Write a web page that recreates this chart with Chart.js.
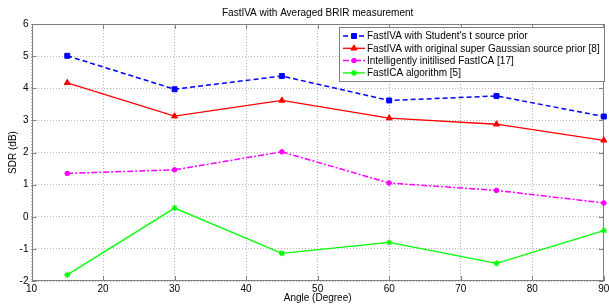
<!DOCTYPE html>
<html><head><meta charset="utf-8">
<script src="https://cdn.jsdelivr.net/npm/chart.js@4"></script>
<style>html,body{margin:0;padding:0;background:#fff}#wrap{width:609px;height:306px}</style>
</head><body><div id="wrap"><canvas id="c" width="609" height="306"></canvas></div>
<script>
const chartTitle = 'FastIVA with Averaged BRIR measurement';
const xTitle = 'Angle (Degree)';
const yTitle = 'SDR (dB)';
const angles = [15, 30, 45, 60, 75, 90];
const sdrStudentT = [5.01, 3.97, 4.38, 3.62, 3.76, 3.12];
const sdrSuperGauss = [4.17, 3.13, 3.62, 3.07, 2.88, 2.38];
const sdrIntelFastICA = [1.35, 1.46, 2.02, 1.05, 0.82, 0.43];
const sdrFastICA = [-1.81, 0.27, -1.14, -0.80, -1.45, -0.43];
const seriesLabels = [
  "FastIVA with Student's t source prior",
  "FastIVA with original super Gaussian source prior [8]",
  "Intelligently initilised FastICA [17]",
  "FastICA algorithm [5]"
];
const xTicks = [10, 20, 30, 40, 50, 60, 70, 80, 90];
const yTicks = [-2, -1, 0, 1, 2, 3, 4, 5, 6];

const FONT = "'Liberation Sans', Arial, sans-serif";
const pts = arr => angles.map((a, i) => ({x: a, y: arr[i]}));

const datasets = [
  {label: seriesLabels[0], data: pts(sdrStudentT), borderColor: '#0000ff', backgroundColor: '#0000ff',
   borderDash: [5, 3], borderWidth: 1.5, pointStyle: 'rect', pointRadius: 3.5, pointBorderWidth: 1},
  {label: seriesLabels[1], data: pts(sdrSuperGauss), borderColor: '#ff0000', backgroundColor: '#ff0000',
   borderDash: [], borderWidth: 1.3, pointStyle: 'triangle', pointRadius: 3.5, pointBorderWidth: 1},
  {label: seriesLabels[2], data: pts(sdrIntelFastICA), borderColor: '#ff00ff', backgroundColor: '#ff00ff',
   borderDash: [6, 2, 2, 2], borderWidth: 1.5, pointStyle: 'circle', pointRadius: 2.3, pointBorderWidth: 1},
  {label: seriesLabels[3], data: pts(sdrFastICA), borderColor: '#00ff00', backgroundColor: '#00ff00',
   borderDash: [], borderWidth: 1.3, pointStyle: 'star', pointRadius: 3, pointBorderWidth: 1.2}
];
datasets.forEach(d => { d.tension = 0; d.fill = false; d.clip = false; });

const frame = {
  id: 'frame',
  beforeDatasetsDraw(chart) {
    const {ctx, chartArea: {left, right, top, bottom}, scales: {x, y}} = chart;
    ctx.save();
    ctx.setLineDash([]);
    ctx.strokeStyle = '#808080';
    ctx.lineWidth = 1;
    ctx.strokeRect(Math.round(left) + 0.5, Math.round(top) + 0.5, Math.round(right - left) - 1, Math.round(bottom - top) - 1);
    ctx.beginPath();
    xTicks.forEach(v => {
      const px = Math.round(x.getPixelForValue(v)) + 0.5;
      ctx.moveTo(px, bottom); ctx.lineTo(px, bottom - 5);
      ctx.moveTo(px, top); ctx.lineTo(px, top + 5);
    });
    yTicks.forEach(v => {
      const py = Math.round(y.getPixelForValue(v)) + 0.5;
      ctx.moveTo(left, py); ctx.lineTo(left + 5, py);
      ctx.moveTo(right, py); ctx.lineTo(right - 5, py);
    });
    ctx.stroke();
    ctx.restore();
  },
  afterDraw(chart) {
    const {ctx, chartArea: {left, right}} = chart;
    ctx.save();
    ctx.fillStyle = '#000';
    ctx.font = '10px ' + FONT;
    ctx.textAlign = 'center';
    ctx.textBaseline = 'middle';
    ctx.fillText(chartTitle, (left + right) / 2, 13);
    const bx = 339.5, by = 27.5, bw = 265, bh = 54;
    ctx.fillStyle = '#fff';
    ctx.fillRect(bx, by, bw, bh);
    ctx.strokeStyle = '#808080';
    ctx.lineWidth = 1;
    ctx.setLineDash([]);
    ctx.strokeRect(bx, by, bw, bh);
    chart.data.datasets.forEach((d, i) => {
      const yy = 36 + 12.3 * i;
      ctx.save();
      ctx.strokeStyle = d.borderColor;
      ctx.fillStyle = d.backgroundColor;
      ctx.lineWidth = d.borderWidth;
      ctx.setLineDash(d.borderDash);
      ctx.beginPath(); ctx.moveTo(343, yy); ctx.lineTo(365, yy); ctx.stroke();
      ctx.setLineDash([]);
      ctx.lineWidth = d.pointBorderWidth;
      Chart.helpers.drawPoint(ctx, {pointStyle: d.pointStyle, radius: d.pointRadius, borderWidth: d.pointBorderWidth, rotation: 0}, 354, yy);
      ctx.restore();
      ctx.fillStyle = '#000';
      ctx.textAlign = 'left';
      ctx.textBaseline = 'middle';
      ctx.font = '10px ' + FONT;
      ctx.fillText(d.label, 367, yy + 0.5);
    });
    ctx.restore();
  }
};

new Chart(document.getElementById('c'), {
  type: 'line',
  data: {datasets},
  plugins: [frame],
  options: {
    responsive: false,
    devicePixelRatio: 1,
    animation: false,
    events: [],
    layout: {padding: {top: 24, right: 4, left: 0, bottom: 0}},
    plugins: {legend: {display: false}, title: {display: false}, tooltip: {enabled: false}},
    scales: {
      x: {
        type: 'linear', min: 10, max: 90,
        afterBuildTicks: s => { s.ticks = xTicks.map(v => ({value: v})); },
        afterFit: s => { s.height = 25; s.paddingLeft = 0; s.paddingRight = 0; },
        ticks: {color: '#000', font: {size: 10, family: FONT}, padding: 2, maxRotation: 0, autoSkip: false},
        grid: {color: '#b4b4b4', lineWidth: 1, drawTicks: false},
        border: {display: false, dash: [1, 2]},
        title: {display: true, text: xTitle, color: '#000', font: {size: 10, family: FONT}, padding: {top: 0, bottom: 2}}
      },
      y: {
        type: 'linear', min: -2, max: 6,
        afterBuildTicks: s => { s.ticks = yTicks.map(v => ({value: v})); },
        afterFit: s => { s.width = 31.5; s.paddingTop = 0; s.paddingBottom = 0; },
        ticks: {color: '#000', font: {size: 10, family: FONT}, padding: 3},
        grid: {color: '#b4b4b4', lineWidth: 1, drawTicks: false},
        border: {display: false, dash: [1, 2]},
        title: {display: true, text: yTitle, color: '#000', font: {size: 10, family: FONT}, padding: {top: 7, bottom: 0}}
      }
    }
  }
});
</script>
</body></html>
